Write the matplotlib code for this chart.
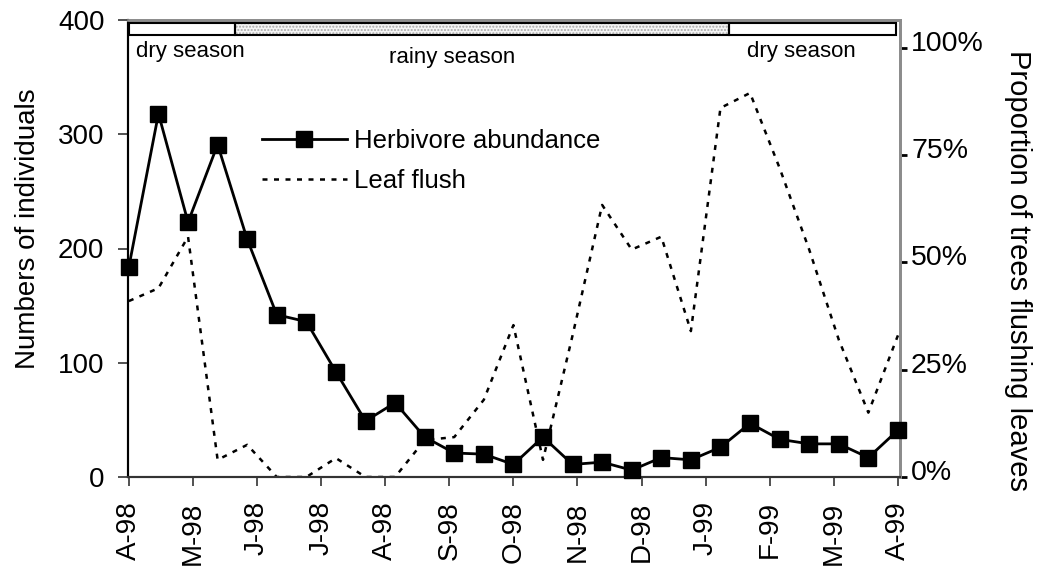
import matplotlib
matplotlib.use("Agg")
import matplotlib.pyplot as plt
import numpy as np
from matplotlib.patches import Rectangle
from matplotlib.transforms import ScaledTranslation
from matplotlib.lines import Line2D

plt.rcParams['font.family'] = ['Liberation Sans', 'DejaVu Sans']

# ---- data ----
month_labels = ["A-98", "M-98", "J-98", "J-98", "A-98", "S-98", "O-98",
                "N-98", "D-98", "J-99", "F-99", "M-99", "A-99"]
# biweekly samples (27 samples over 12 months)
herbivore = [184, 318, 223, 291, 208, 142, 136, 92, 49, 65, 35, 21, 20, 11,
             35, 11, 13, 6, 17, 15, 26, 47, 33, 29, 29, 17, 41]
leaf_flush = [0.41, 0.44, 0.56, 0.04, 0.075, 0.0, 0.0, 0.044, 0.0, 0.0, 0.086,
              0.093, 0.18, 0.354, 0.04, 0.33, 0.634, 0.53, 0.56, 0.34, 0.86,
              0.895, 0.72, 0.53, 0.32, 0.15, 0.33]
# seasons in sample-index units
season_names = ["dry season", "rainy season", "dry season"]
season_starts = [0.0, 3.6, 20.3]
season_ends = [3.6, 20.3, 25.95]
season_label_x = [0.24, 10.93, 22.75]
season_label_ha = ["left", "center", "center"]
season_label_y = [52, 57, 52]   # pixel rows
right_ticks = [0, 0.25, 0.5, 0.75, 1.0]
right_tick_labels = ["0%", "25%", "50%", "75%", "100%"]
left_ticks = [0, 100, 200, 300, 400]

W, H = 1042, 569
fig = plt.figure(figsize=(W / 100, H / 100), dpi=100)
ax = fig.add_axes([128 / W, 1 - 477 / H, 772 / W, 457 / H])
ax2 = ax.twinx()

x = np.arange(len(herbivore))
n_months = len(month_labels) - 1
month_pos = np.arange(len(month_labels)) * (len(herbivore) - 1) / n_months

ax2.plot(x, leaf_flush, color='black', lw=1.8, dashes=(2, 2.6), zorder=2)
ax.plot(x, herbivore, color='black', lw=2, marker='s', markersize=11,
        markerfacecolor='black', zorder=3, clip_on=False)
ax.set_zorder(ax2.get_zorder() + 1)
ax.patch.set_visible(False)

ax.set_xlim(-0.03, 26.07)
ax.set_ylim(0, 400)
ax2.set_ylim(0, 1.065)

ax.set_xticks(month_pos)
ax.set_xticklabels(month_labels, rotation=90, fontsize=20)
ax.set_yticks(left_ticks)
ax.set_yticklabels([str(v) for v in left_ticks], fontsize=20)
ax.tick_params(axis='y', direction='out', length=7, width=1.2, color='#333333', pad=10)
ax.tick_params(axis='x', direction='out', length=6.5, width=1.2, color='#333333', pad=11)

ax2.set_yticks(right_ticks)
ax2.set_yticklabels(right_tick_labels, fontsize=20.5)
ax2.tick_params(axis='y', direction='out', length=5, width=2, pad=3, color='black')
off = ScaledTranslation(0, 7 / 100, fig.dpi_scale_trans)
for lab in ax2.get_yticklabels():
    lab.set_transform(lab.get_transform() + off)

for a in (ax, ax2):
    a.spines['left'].set_color('black')
    a.spines['bottom'].set_color('#333333')
    a.spines['top'].set_color('#8c8c8c')
    a.spines['right'].set_color('#8c8c8c')
    a.spines['left'].set_linewidth(1.5)
    a.spines['bottom'].set_linewidth(1.5)
    a.spines['top'].set_linewidth(2)
    a.spines['right'].set_linewidth(2)

ax.set_ylabel("Numbers of individuals", fontsize=20)
ax.yaxis.set_label_coords((41 - 128) / 772, (477 - 229) / 457)
ax2.set_ylabel("Proportion of trees flushing leaves", fontsize=21, rotation=-90)
ax2.yaxis.label.set_verticalalignment('bottom')
ax2.yaxis.set_label_coords((1004 - 128) / 772, (477 - 270) / 457)

# season bar (axes-fraction in y)
trans = ax.get_xaxis_transform()
y0, hgt = 1 - 15 / 457, 12 / 457
for name, s, e in zip(season_names, season_starts, season_ends):
    if name.startswith("rainy"):
        ax.add_patch(Rectangle((s, y0), e - s, hgt, transform=trans,
                               facecolor='#f4f4f4', edgecolor='#a8a8a8',
                               hatch='.....', lw=0, zorder=4, clip_on=False))
    else:
        ax.add_patch(Rectangle((s, y0), e - s, hgt, transform=trans,
                               facecolor='white', lw=0, zorder=4, clip_on=False))
    ax.add_patch(Rectangle((s, y0), e - s, hgt, transform=trans,
                           facecolor='none', edgecolor='black', lw=1.5,
                           zorder=5, clip_on=False))
for name, lx, ha, ly in zip(season_names, season_label_x, season_label_ha, season_label_y):
    ax.text(lx, (477 - ly) / 457, name, transform=trans, fontsize=16,
            ha=ha, va='center')

handles = [Line2D([], [], color='black', lw=2, marker='s', markersize=11),
           Line2D([], [], color='black', lw=1.8, dashes=(2, 2.6))]
leg = ax.legend(handles, ["Herbivore abundance", "Leaf flush"],
                loc='upper left', bbox_to_anchor=((262 - 128) / 772, (477 - 129) / 457),
                frameon=False, fontsize=18.5, handlelength=3.3, handletextpad=0.3,
                labelspacing=0.62, borderaxespad=0, borderpad=0)

fig.savefig("out.png", dpi=100)
